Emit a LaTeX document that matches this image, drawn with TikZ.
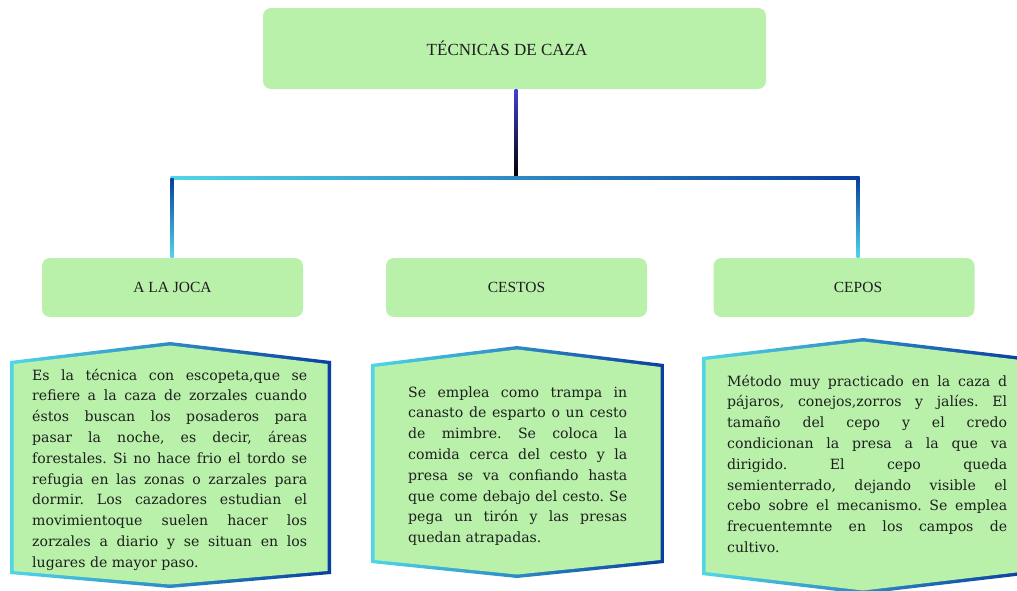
\documentclass[tikz,border=0pt]{standalone}
\usepackage{fontspec}
\setmainfont{Liberation Serif}
\newfontfamily\bodyfont{DejaVu Serif}
\usetikzlibrary{calc}
\definecolor{boxgreen}{RGB}{185,241,170}
\definecolor{bcyan}{RGB}{80,214,232}
\definecolor{bblue}{RGB}{10,62,160}
\definecolor{topblue}{RGB}{64,64,216}
\definecolor{txt}{RGB}{30,30,30}
\hyphenpenalty=10000
\exhyphenpenalty=10000
\tolerance=10000
\frenchspacing
\newcommand{\myhex}[7]{%
  \shade[left color=bcyan,right color=bblue] (#1,#4)--(#2,#5)--(#3,#4)--(#3,#6)--(#2,#7)--(#1,#6)--cycle;
  \fill[boxgreen] (#1+3.5,#4+3)--(#2,#5+3.5)--(#3-3.5,#4+3)--(#3-3.5,#6-3)--(#2,#7-3.5)--(#1+3.5,#6-3)--cycle;
}
\tikzset{
  titlebox/.style={fill=boxgreen, rounded corners=8pt, inner sep=0pt, text=txt,
    minimum width=503pt, minimum height=81pt, font=\fontsize{17}{19}\selectfont},
  labelbox/.style={fill=boxgreen, rounded corners=8pt, inner sep=0pt, text=txt,
    minimum width=261pt, minimum height=59pt, font=\fontsize{15.5}{17}\selectfont},
  bodytext/.style={anchor=base west, inner sep=0pt, align=justify, text=txt,
    font=\bodyfont\fontsize{14.1}{20.8}\selectfont\frenchspacing}
}
\begin{document}
\begin{tikzpicture}[x=1pt,y=-1pt]
\useasboundingbox (0,0) rectangle (1017,590);

% boxes
\node[titlebox] (title) at (514.5,48.5) {\hspace*{-15pt}TÉCNICAS DE CAZA};
\node[labelbox] (joca) at (172.5,287.5) {A LA JOCA};
\node[labelbox] (cestos) at (516.5,287.5) {CESTOS};
\node[labelbox] (cepos) at (844,287.5) {\hspace*{28pt}CEPOS};

% junction coordinates
\coordinate (jn) at (516,178);
\coordinate (jl) at (172,178);
\coordinate (jr) at (858,178);
\coordinate (jre) at ($(cepos.north)+(14,0)$);

% connectors (gradient strokes)
\shade[top color=topblue, bottom color=black] ($(title.south -| jn)+(-1.5,0)$) rectangle ($(jn)+(1.5,0)$);
\shade[left color=bcyan, right color=bblue] ($(jl)+(-1.5,-1.5)$) rectangle ($(jr)+(1.5,1.5)$);
\shade[top color=bblue, bottom color=bcyan] ($(jl)+(-1.5,0)$) rectangle ($(joca.north -| jl)+(1.5,0)$);
\shade[top color=bblue, bottom color=bcyan] ($(jr)+(-1.5,0)$) rectangle ($(jre)+(1.5,0)$);

% hexagons
\myhex{10}{170}{331}{361}{342}{574}{588}
\myhex{371}{517}{664}{364}{346}{563}{578}
\myhex{702}{863}{1024}{357}{338}{575}{594}

% texts
\node[bodytext, text width=275pt] (t1) at (32,380) {Es la técnica con escopeta,que se\linebreak
refiere a la caza de zorzales cuando\linebreak
éstos buscan los posaderos para\linebreak
pasar la noche, es decir, áreas\linebreak
forestales. Si no hace frio el tordo se\linebreak
refugia en las zonas o zarzales para\linebreak
dormir. Los cazadores estudian el\linebreak
movimientoque suelen hacer los\linebreak
zorzales a diario y se situan en los\linebreak
lugares de mayor paso.};

\node[bodytext, text width=219pt] (t2) at (408,397) {Se emplea como trampa in\linebreak
canasto de esparto o un cesto\linebreak
de mimbre. Se coloca la\linebreak
comida cerca del cesto y la\linebreak
presa se va confiando hasta\linebreak
que come debajo del cesto. Se\linebreak
pega un tirón y las presas\linebreak
quedan atrapadas.};

\node[bodytext, text width=280pt] (t3) at (727,386) {Método muy practicado en la caza d\linebreak
pájaros, conejos,zorros y jalíes. El\linebreak
tamaño del cepo y el credo\linebreak
condicionan la presa a la que va\linebreak
dirigido. El cepo queda\linebreak
semienterrado, dejando visible el\linebreak
cebo sobre el mecanismo. Se emplea\linebreak
frecuentemnte en los campos de\linebreak
cultivo.};
\end{tikzpicture}
\end{document}
